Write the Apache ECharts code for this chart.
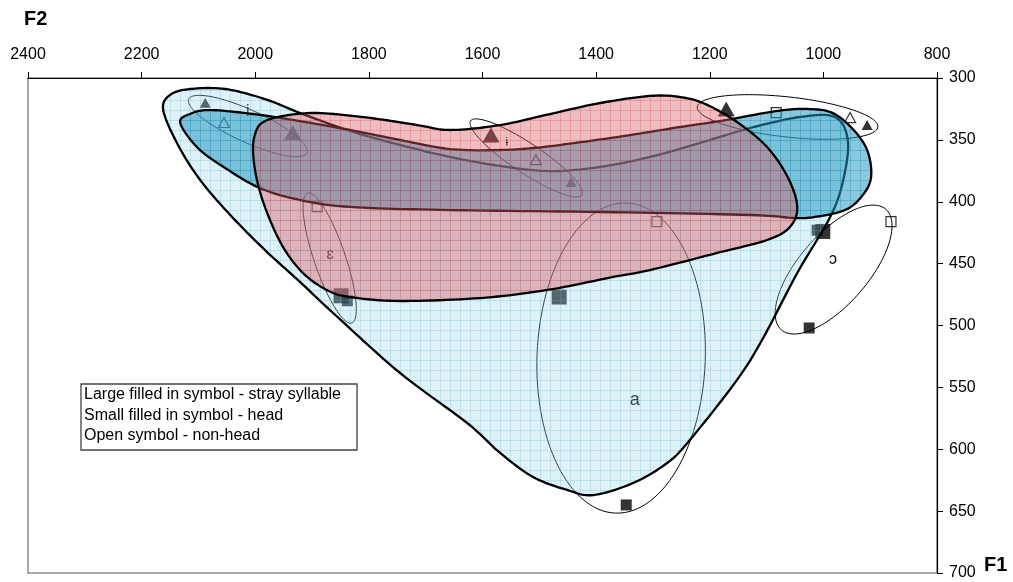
<!DOCTYPE html>
<html><head><meta charset="utf-8">
<script src="https://cdn.jsdelivr.net/npm/echarts/dist/echarts.min.js"></script>
<style>html,body{margin:0;padding:0;background:#fff;}#c{width:1013px;height:582px;}</style>
</head><body><div id="c"></div>
<script>
// ---- axes ----
const F2_RANGE = [800, 2400, 200];
const F1_RANGE = [300, 700, 50];

// ---- measured tokens [F2, F1] ----
const smallFilledTriangles = [[2088,320],[1444,384],[923,338]];
const largeFilledTriangles = [[1934,344],[1585,346],[1171,325]];
const openTriangles        = [[2055,336],[1506,366],[953,332]];
const smallFilledSquares   = [[1838,480],[1011,423],[1025,502],[1347,645]];
const largeFilledSquares   = [[1849,476],[1465,477],[1001,424]];
const openSquares          = [[1891,404],[1293,416],[1083,328],[881,416]];

// ---- vowel labels ----
const vowelNames    = ['i','ɨ','ɛ','a','ɔ'];
const vowelLabelPos = [[2013,327],[1557,352],[1868,443],[1332,560],[983,447]];

// ---- vowel ellipses: centre, end of major axis, end of minor axis [F2, F1] ----
const ellipseCenters   = [[2013,338.8],[1523,364.6],[1869,445.5],[1356,526.3],[982,454.8],[1063,331.5]];
const ellipseMajorEnds = [[1909,360.6],[1425,394.5],[1830,498],[1346,401],[890,406.1],[904,339.6]];
const ellipseMinorEnds = [[2001,327],[1509,354.5],[1843,441.3],[1208,529],[936,473.3],[1059,315.4]];

// ---- enclosing regions (outline vertices, [F2, F1]) ----
const paleRegion = [[2162,325.9],[2150,313.7],[2115,308.9],[2053,308.9],[1983,317],[1921,328.3],[1833,342.8],[1745,354.1],
  [1657,363.8],[1569,371.1],[1481,375.2],[1393,371.9],[1305,363.8],[1217,352.5],[1129,340.4],[1041,331.5],[980,331.5],
  [957,350.1],[965,382.4],[988,412.3],[1046,457.6],[1106,510.1],[1152,544],[1235,592.5],[1275,611.1],[1335,627.3],
  [1405,637],[1451,632.9],[1511,622.4],[1569,603],[1627,578.8],[1745,538.4],[1863,489.9],[1921,464.9],[1983,439],
  [2044,410.7],[2097,382.4],[2136,354.1]];
const blueRegion = [[2132,336.4],[2115,329.1],[2080,325.9],[2004,329.1],[1934,333.9],[1833,342],[1745,350.1],[1657,357.4],
  [1569,358.2],[1494,355.8],[1363,347.7],[1252,339.6],[1170,333.9],[1094,327.5],[1041,325],[988,327.5],[950,340.4],
  [923,358.2],[916,380],[932,395.4],[962,406.7],[1015,412.3],[1053,413.1],[1129,410.7],[1393,408.3],[1657,406.7],
  [1833,404.2],[1921,398.6],[1992,388.9],[2053,372.7],[2101,356.6]];
const redRegion = [[2004,358.2],[1999,343.6],[1986,335.6],[1951,330.7],[1891,328.3],[1798,332.3],[1715,338],[1657,342],
  [1569,338],[1481,329.1],[1393,320.2],[1305,314.5],[1252,315.4],[1208,321],[1152,335.6],[1099,355.8],[1062,380.8],
  [1046,404.2],[1059,420.4],[1099,430.9],[1187,441.4],[1305,455.2],[1370,460.8],[1486,471.3],[1604,477.8],[1745,480.2],
  [1833,477],[1874,471.3],[1916,457.6],[1951,436.6],[1979,409.1],[1997,382.4]];

const legendLines = ['Large filled in symbol - stray syllable','Small filled in symbol - head','Open symbol - non-head'];

// ---------------------------------------------------------------
const FONT = '"Liberation Sans", Arial, "DejaVu Sans", sans-serif';

function makePattern(bg, line, size){
  const c = document.createElement('canvas'); c.width = c.height = size;
  const g = c.getContext('2d');
  g.fillStyle = bg; g.fillRect(0,0,size,size);
  g.fillStyle = line; g.fillRect(0,0,size,1); g.fillRect(0,0,1,size);
  return {image:c, repeat:'repeat'};
}
function closedSpline(pts, steps){
  const n = pts.length, out = [];
  for (let i=0;i<n;i++){
    const p0=pts[(i-1+n)%n], p1=pts[i], p2=pts[(i+1)%n], p3=pts[(i+2)%n];
    for (let s=0;s<steps;s++){
      const t=s/steps, t2=t*t, t3=t2*t;
      out.push([0,1].map(k=>0.5*(2*p1[k]+(-p0[k]+p2[k])*t+(2*p0[k]-5*p1[k]+4*p2[k]-p3[k])*t2+(-p0[k]+3*p1[k]-3*p2[k]+p3[k])*t3)));
    }
  }
  return out;
}
function regionSeries(name, pts, fill, z){
  return {type:'custom', name, z, silent:true, clip:false, data:[pts[0]],
    renderItem:(params, api)=>{
      const px = pts.map(p=>api.coord(p));
      return {type:'polygon', shape:{points:closedSpline(px, 12)}, style:{fill, stroke:'#000', lineWidth:2.3}};
    }};
}
function scatter(data, symbol, size, filled, z){
  return {type:'scatter', data, symbol, symbolSize:size, z, silent:true,
    itemStyle: filled ? {color:'#000', borderWidth:0} : {color:'rgba(0,0,0,0)', borderColor:'#000', borderWidth:1.2}};
}
const labelSize = {'i':16,'ɨ':12,'ɛ':16,'a':18,'ɔ':16};
const plain = v => String(v);

const chart = echarts.init(document.getElementById('c'), null, {renderer:'canvas'});
chart.setOption({
  animation:false,
  backgroundColor:'#fff',
  grid:{left:28, right:76, top:78, bottom:9, show:true, borderColor:'#8c8c8c', borderWidth:1.5, backgroundColor:'rgba(0,0,0,0)'},
  xAxis:{type:'value', position:'top', inverse:true, min:F2_RANGE[0], max:F2_RANGE[1], interval:F2_RANGE[2],
    axisLine:{show:true, onZero:false, lineStyle:{color:'#000', width:1.2}},
    axisTick:{show:true, inside:false, length:6, lineStyle:{color:'#000'}},
    axisLabel:{color:'#000', fontSize:16, margin:15, fontFamily:FONT, formatter:plain},
    splitLine:{show:false}},
  yAxis:{type:'value', position:'right', inverse:true, min:F1_RANGE[0], max:F1_RANGE[1], interval:F1_RANGE[2],
    axisLine:{show:true, onZero:false, lineStyle:{color:'#000', width:1.2}},
    axisTick:{show:true, inside:false, length:6, lineStyle:{color:'#000'}},
    axisLabel:{color:'#000', fontSize:16, margin:12, fontFamily:FONT, formatter:plain},
    splitLine:{show:false}},
  series:[
    scatter(openTriangles, 'triangle', [11,10], false, 2),
    scatter(openSquares, 'rect', 10, false, 2),
    scatter(smallFilledTriangles, 'triangle', [11,10], true, 2),
    scatter(largeFilledTriangles, 'triangle', [17,15], true, 2),
    scatter(largeFilledSquares, 'rect', 15, true, 2),
    scatter(smallFilledSquares, 'rect', 11, true, 2),
    {type:'custom', name:'ellipses', z:2, silent:true, clip:false, data:ellipseCenters,
      renderItem:(params, api)=>{
        const i = params.dataIndex;
        const c = api.coord(ellipseCenters[i]), a = api.coord(ellipseMajorEnds[i]), b = api.coord(ellipseMinorEnds[i]);
        const u = [a[0]-c[0], a[1]-c[1]], v = [b[0]-c[0], b[1]-c[1]];
        const pts = [];
        for (let k=0;k<120;k++){ const t=k/120*2*Math.PI;
          pts.push([c[0]+Math.cos(t)*u[0]+Math.sin(t)*v[0], c[1]+Math.cos(t)*u[1]+Math.sin(t)*v[1]]); }
        return {type:'polygon', shape:{points:pts}, style:{fill:'none', stroke:'#000', lineWidth:1}};
      }},
    {type:'custom', name:'vowels', z:2, silent:true, clip:false, data:vowelLabelPos,
      renderItem:(params, api)=>{
        const p = api.coord(vowelLabelPos[params.dataIndex]);
        const t = vowelNames[params.dataIndex];
        return {type:'text', x:p[0], y:p[1], style:{text:t, fill:'#000', font:labelSize[t]+'px '+FONT, align:'center', verticalAlign:'middle'}};
      }},
    regionSeries('pale', paleRegion, makePattern('rgba(150,210,228,0.32)','rgba(90,180,210,0.25)',10), 3),
    regionSeries('blue', blueRegion, makePattern('rgba(30,152,190,0.52)','rgba(20,130,170,0.30)',10), 4),
    regionSeries('red', redRegion, makePattern('rgba(214,90,98,0.40)','rgba(200,45,55,0.22)',10), 5)
  ],
  graphic:[
    {type:'text', x:24, y:19, z:10, style:{text:'F2', font:'bold 20px '+FONT, fill:'#000', verticalAlign:'middle'}},
    {type:'text', x:984, y:565, z:10, style:{text:'F1', font:'bold 20px '+FONT, fill:'#000', verticalAlign:'middle'}},
    {type:'rect', x:81, y:384, z:10, shape:{width:276, height:66}, style:{fill:'#fff', stroke:'#444', lineWidth:1.3}},
    {type:'text', x:84, y:395, z:11, style:{text:legendLines[0], font:'16px '+FONT, fill:'#000', verticalAlign:'middle'}},
    {type:'text', x:84, y:416, z:11, style:{text:legendLines[1], font:'16px '+FONT, fill:'#000', verticalAlign:'middle'}},
    {type:'text', x:84, y:436, z:11, style:{text:legendLines[2], font:'16px '+FONT, fill:'#000', verticalAlign:'middle'}}
  ]
});
</script></body></html>
